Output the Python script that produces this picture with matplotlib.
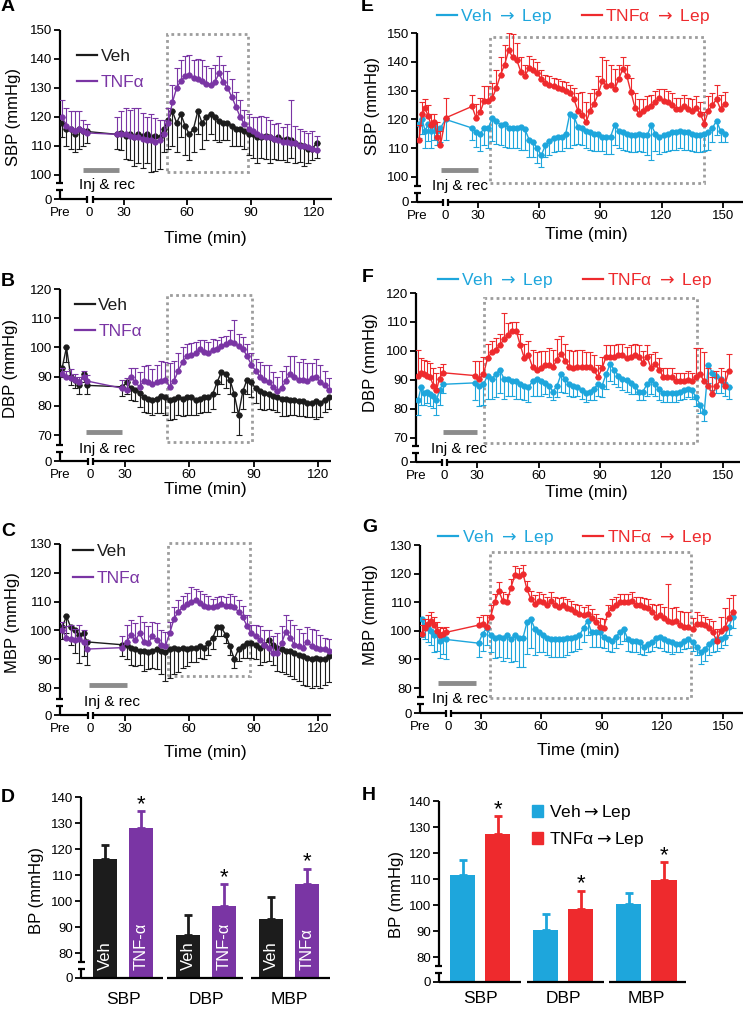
import numpy as np
import matplotlib
matplotlib.use('Agg')
import matplotlib.pyplot as plt
from matplotlib.lines import Line2D
from matplotlib.patches import Patch, Rectangle

plt.rcParams['font.family'] = ['Liberation Sans', 'DejaVu Sans']

W, H = 745, 1011
BLACK = '#1c1c1c'
PURPLE = '#7a35a4'
CYAN = '#1ea6dc'
RED = '#ee2a2d'
GRAY = '#8c8c8c'
BOXC = '#9d9d9d'

# ---------------- data: panels A-C (Veh vs TNFa) ----------------
pre_abc = [1, 3, 5, 7, 9, 11, 12.5]

t_a = pre_abc + list(range(27, 122, 2))
veh_a = [118, 116, 116, 114, 116, 115, 115,
         114, 114.5, 113.5, 114, 113, 114, 113.5, 114, 113, 113.5, 113,
         116, 119, 122, 118, 121, 117, 114, 116, 122, 118, 120, 121, 120, 118.5, 118, 118, 117, 116, 116, 115, 114,
         114, 113, 113, 113.5, 113, 112.5, 113, 112, 112.5, 112, 111, 110.5, 110, 109, 109, 111]
veh_a_err = [5, 6, 7, 6, 7, 5, 4,
             5, 6, 8, 9, 10, 10, 11, 10, 12, 12, 11,
             8, 10, 12, 10, 8, 10, 9, 8, 8, 9, 8, 7, 8, 7, 6, 6, 7, 6, 6, 6, 7,
             8, 9, 7, 8, 9, 7, 8, 7, 8, 6, 7, 6, 7, 5, 4, 5]
tnf_a = [120, 117, 116, 115, 116, 115, 114.5,
         114, 114, 114, 113.5, 113, 113, 112.5, 112, 112, 111.5, 112,
         114, 118, 125, 130, 132.5, 134, 134.5, 133.5, 133, 132.5, 131.5, 131, 132, 135, 132, 130, 127, 123.5, 120, 117.5, 116,
         115, 114, 113.5, 113, 113, 112.5, 112, 111.5, 111.5, 111, 111, 110, 110, 109.5, 109, 108.5]
tnf_a_err = [6, 6, 6, 7, 6, 4, 3,
             6, 8, 9, 9, 10, 10, 9, 8, 9, 8, 7,
             5, 5, 6, 7, 7, 7, 7, 6, 7, 7, 6, 6, 6, 6, 6, 6, 6, 5, 6, 5, 5,
             5, 6, 7, 7, 6, 5, 6, 5, 6, 15, 6, 6, 5, 5, 6, 5]

t_b = pre_abc + list(range(29, 126, 2))
veh_b = [93, 100, 90, 89, 87, 91, 87,
         86.5, 88, 86, 85.5, 84.5, 83, 82.5, 82, 82.5, 83.5,
         83, 82, 82.5, 83, 82.5, 83, 83, 82, 82.5, 83,
         83, 84, 88, 91.5, 91, 89, 84, 77, 85, 89,
         88, 86, 85, 84.5, 84, 83.5, 83, 82.5, 82.5, 82,
         82, 81.5, 81.5, 81, 81, 81.5, 81, 82, 83]
veh_b_err = [3, 5, 3, 3, 3, 3, 3,
             3, 4, 4, 4, 5, 5, 5, 5, 5, 6,
             6, 7, 7, 6, 6, 6, 6, 5, 5, 5,
             5, 5, 4, 4, 5, 5, 6, 7, 6, 5,
             5, 5, 6, 6, 5, 5, 5, 6, 6, 5,
             5, 5, 5, 5, 5, 6, 5, 4, 4]
tnf_b = [91, 90, 89.5, 89, 88, 90, 88.5,
         86, 85.5, 90, 88, 86.5, 88.5, 88, 87.5, 88, 88.5,
         89, 86.5, 88.5, 92, 95, 97, 97.5, 98, 99.5, 98.5,
         98, 99, 99.5, 100.5, 101, 102, 101.5, 100.5, 99.5, 97,
         94, 92, 90, 89, 88, 86.5, 85, 86, 88.5, 91,
         90, 89, 89, 88.5, 89.5, 90, 88, 87, 85.5]
tnf_b_err = [2, 2, 3, 2, 2, 2, 2,
             3, 4, 3, 5, 5, 5, 6, 5, 6, 7,
             6, 8, 7, 6, 5, 4, 4, 4, 3, 4,
             4, 4, 3, 3, 3, 4, 8, 4, 4, 4,
             4, 4, 5, 5, 6, 5, 5, 6, 5, 6,
             7, 6, 7, 6, 5, 6, 6, 5, 4]

t_c = pre_abc + list(range(29, 126, 2))
veh_c = [101, 105, 101, 100, 98.5, 99, 96,
         95, 95, 94, 93.5, 93, 93, 92.5, 93, 93.5, 93,
         92.5, 93.5, 94, 93.5, 94, 93.5, 94, 94, 94.5, 94,
         95.5, 97.5, 101, 101, 98.5, 94.5, 90, 93.5, 94.5, 95.5,
         95.5, 95, 94, 95, 96.5, 95, 94, 93.5, 93, 93,
         92, 91.5, 91, 90.5, 90, 90.5, 90, 90, 91]
veh_c_err = [4, 6, 6, 8, 10, 8, 8,
             4, 5, 6, 6, 5, 7, 6, 6, 7, 8, 10,
             10, 9, 8, 7, 6, 5, 5, 4, 4, 4, 4, 3, 3, 3, 3, 3, 4, 4, 5, 5,
             5, 6, 6, 7, 7, 8, 8, 8, 9, 9, 9, 10, 10, 10, 10, 10, 9, 9]
tnf_c = [100, 97.5, 97, 96.5, 97, 96, 93.5,
         94, 96, 98.5, 96.5, 99, 96, 95.5, 98, 96.5, 95,
         94.5, 99, 104, 106.5, 108, 109, 110, 110.5, 109.5, 108.5,
         108, 108, 108.5, 109, 108.5, 108.5, 108, 106.5, 104.5, 101.5,
         99, 98, 96.5, 95, 94, 92, 92, 95.5, 99.5, 97.5,
         95, 94.5, 94, 96, 94.5, 94, 93.5, 93.5, 93]
tnf_c_err = [3, 4, 5, 4, 5, 4, 3,
             4, 6, 5, 6, 6, 7, 6, 5, 6, 5, 5,
             4, 4, 4, 4, 4, 5, 4, 4, 4, 4, 3, 3, 3, 3, 4, 4, 4, 4, 4, 3,
             4, 5, 5, 6, 6, 7, 6, 6, 6, 7, 6, 5, 5, 6, 6, 5, 4, 4]

# ---------------- data: panels E-G (Veh->Lep vs TNFa->Lep) ----------------
t_e = [1, 2.5, 4, 5.5, 7, 8.5, 10, 11.5, 14] + list(range(27, 152, 2))
veh_e = [118.5, 120, 116, 118.5, 116, 118, 116, 117, 120,
         117, 115.5, 115, 117, 117, 120.5, 119.5, 118, 118.5, 117,
         117, 117, 117.5, 116.5, 113, 112, 110, 107.5, 111, 112.5,
         113.5, 114, 114, 115, 122, 121, 117.5, 117, 116, 115.5,
         115, 115, 114, 114, 114, 118, 116, 115.5, 115, 114.5,
         114.5, 115, 114.5, 114.5, 118, 115, 114, 114.5, 115, 115.5,
         115.5, 116, 115.5, 115.5, 115, 114.5, 114.5, 115, 115.5, 117,
         119.5, 116, 115]
veh_e_err = [5, 5, 6, 6, 6, 5, 5, 5, 7,
             4, 5, 6, 6, 7, 8, 8, 7, 8, 7,
             7, 7, 8, 7, 6, 5, 5, 4, 4, 5,
             5, 5, 5, 5, 12, 10, 6, 6, 6, 6,
             6, 6, 5, 6, 6, 7, 6, 6, 6, 6,
             6, 6, 6, 7, 12, 6, 6, 6, 6, 6,
             6, 6, 6, 6, 6, 6, 6, 6, 6, 5,
             5, 4, 3]
tnf_e = [113, 122, 124, 121, 118, 119, 114, 111, 120.5,
         124.5, 120.5, 122.5, 126.5, 126.5, 127.5, 131, 135.5, 139, 144,
         141.5, 140.5, 136.5, 135, 138, 137, 136, 134, 132.5, 132,
         131.5, 131, 130.5, 130, 129, 127, 123, 121.5, 119, 123,
         125.5, 129, 133.5, 131.5, 132, 130.5, 134, 137.5, 135, 129.5,
         124, 122, 123, 124, 124.5, 126, 127.5, 126.5, 126, 125,
         123.5, 123.5, 124.5, 123.5, 123, 124, 122, 118.5, 123, 125,
         127, 123.5, 125.5]
tnf_e_err = [5, 4, 3, 4, 4, 3, 5, 5, 7,
             4, 5, 5, 5, 5, 5, 6, 6, 7, 6,
             8, 6, 5, 4, 4, 4, 4, 3, 3, 3,
             3, 3, 3, 3, 3, 4, 6, 8, 7, 6,
             5, 6, 8, 9, 7, 7, 5, 4, 4, 5,
             5, 5, 4, 4, 4, 4, 3, 4, 4, 4,
             4, 4, 4, 4, 4, 4, 4, 4, 5, 4,
             5, 5, 4]

t_f = [1, 2.5, 4, 5.5, 7, 8.5, 10, 11.5, 13] + list(range(29, 154, 2))
veh_f = [83, 87.5, 85.5, 86, 85, 84.5, 83, 86.5, 88.5,
         89, 88, 88.5, 91.5, 90.5, 92, 93.5, 90.5, 90.5, 89.5,
         89.5, 88.5, 88, 87.5, 89.5, 90.5, 89.5, 89, 88, 86,
         88, 92, 90.5, 88.5, 88, 87.5, 86.5, 85.5, 86, 87,
         88.5, 88, 92, 95.5, 93.5, 91.5, 90.5, 90, 89, 88,
         86, 86, 88.5, 90, 88.5, 87, 85.5, 85.5, 85.5, 85.5,
         86, 86.5, 87, 86.5, 84, 81.5, 79, 95, 92.5, 91.5,
         90.5, 88.5, 87.5]
veh_f_err = [5, 6, 4, 4, 4, 4, 5, 5, 3,
             6, 7, 7, 8, 7, 8, 8, 7, 6, 5,
             6, 5, 5, 5, 5, 6, 5, 4, 4, 3,
             4, 6, 5, 4, 4, 3, 3, 3, 3, 4,
             4, 4, 5, 6, 5, 4, 4, 4, 4, 3,
             3, 3, 4, 5, 4, 4, 3, 3, 3, 3,
             3, 3, 3, 3, 3, 3, 3, 6, 6, 6,
             5, 4, 4]
tnf_f = [91.5, 92.5, 92, 91.5, 91, 88, 86.5, 90.5, 92.5,
         91.5, 90.5, 92, 97.5, 99.5, 100.5, 102, 104, 105.5, 107,
         107, 102, 97.5, 98.5, 94.5, 93.5, 94, 95, 95, 94.5,
         97, 99, 96.5, 94.5, 94, 94.5, 94.5, 94.5, 94.5, 93.5,
         91, 94, 98, 98, 98, 98.5, 98.5, 97.5, 98, 98.5,
         98, 96, 98, 94, 95.5, 93.5, 91, 91, 91, 89.5,
         89.5, 89.5, 90, 89.5, 91, 92, 89.5, 88, 85, 88,
         90, 88, 93]
tnf_f_err = [9, 5, 5, 5, 5, 6, 6, 4, 3,
             5, 6, 6, 5, 4, 4, 4, 9, 4, 3,
             3, 4, 5, 5, 6, 6, 6, 5, 6, 6,
             7, 6, 6, 6, 6, 6, 6, 5, 5, 5,
             4, 4, 4, 4, 4, 4, 4, 4, 4, 4,
             4, 4, 4, 5, 4, 4, 3, 3, 3, 3,
             3, 3, 3, 3, 10, 9, 10, 6, 6, 5,
             4, 5, 6]

t_g = [1, 2.5, 4, 5.5, 7, 8.5, 10, 11.5, 13] + list(range(29, 156, 2))
veh_g = [104, 102, 101, 100, 98.5, 99, 96.5, 98, 97,
         95.7, 99, 101, 98.5, 97.5, 98, 97.5, 98.5, 97, 98.5,
         97.5, 97.5, 103, 104, 100.5, 99.5, 98.5, 97.5, 97, 97,
         97, 97, 97.5, 97.5, 98, 98.5, 101, 103.5, 99.5, 99.5,
         99.5, 98, 97, 96.5, 98, 99.5, 100.5, 97, 96.5, 96.5,
         96, 94.5, 95.5, 96, 97.5, 98, 97, 96.5, 96, 95.5,
         95.5, 96.5, 97, 96, 94.5, 92.5, 93.5, 95.5, 96.5, 97,
         97, 98, 101.5, 105]
veh_g_err = [6, 5, 5, 5, 6, 6, 6, 6, 7,
             5, 6, 6, 6, 7, 7, 8, 8, 8, 9,
             10, 10, 11, 10, 9, 7, 6, 6, 6, 6,
             6, 6, 6, 5, 5, 5, 5, 5, 5, 5,
             5, 4, 4, 4, 4, 4, 4, 4, 4, 4,
             4, 3, 3, 3, 3, 4, 4, 4, 4, 3,
             3, 3, 3, 3, 3, 4, 4, 4, 4, 4,
             3, 3, 3, 4]
tnf_g = [99, 101, 102.5, 103.5, 102, 100, 98.5, 99, 99.5,
         102, 102.5, 101.5, 105, 110, 114, 110.5, 110, 115, 119.5,
         119, 120, 114.5, 111, 109.5, 110.5, 110, 109, 110.5, 109,
         108.5, 109, 108, 107.5, 106.5, 106, 105.5, 106, 104.5, 103,
         101.5, 101, 106, 108, 109, 110, 110, 110, 110.5, 109,
         109, 108.5, 108, 106.5, 105, 105.5, 104.5, 103.5, 103, 103.5,
         102, 101.5, 101.5, 100.5, 102.5, 102.5, 102, 101, 99.5, 96.5,
         100, 101, 104.5, 106.5]
tnf_g_err = [3, 3, 3, 3, 3, 3, 3, 2, 2,
             3, 3, 4, 4, 3, 3, 3, 3, 3, 3,
             3, 3, 3, 3, 3, 3, 3, 3, 3, 3,
             3, 3, 3, 3, 3, 3, 3, 3, 3, 3,
             3, 3, 3, 3, 3, 3, 3, 3, 3, 3,
             3, 3, 3, 3, 4, 4, 4, 13, 5, 5,
             5, 5, 5, 4, 4, 3, 3, 3, 4, 4,
             5, 7, 7, 6]

# ---------------- data: bar panels D and H ----------------
bp_groups = ['SBP', 'DBP', 'MBP']
veh_d = [116, 87, 93]
veh_d_err = [5.5, 7.5, 8.5]
tnf_d = [128, 98, 106.5]
tnf_d_err = [6.5, 8.5, 6]
veh_h = [111.5, 90.5, 100.5]
veh_h_err = [5.7, 6, 4.2]
tnf_h = [127.5, 98.5, 109.7]
tnf_h_err = [6.6, 7, 6.8]

fig = plt.figure(figsize=(W / 100, H / 100), dpi=100)


def add_ax(l, t, r, b):
    return fig.add_axes([l / W, 1 - b / H, (r - l) / W, (b - t) / H])


def ftext(x, y, s, **kw):
    fig.text(x / W, 1 - y / H, s, **kw)


KW = dict(color='k', lw=1.6, clip_on=False, solid_capstyle='butt')


def y_axis(ax, wpx, hpx, ylo, yhi, yticks):
    for s in ax.spines.values():
        s.set_visible(False)
    ta = ax.transAxes
    up, lo, cap = 16 / hpx, 9 / hpx, 3.5 / wpx
    ax.plot([0, 0], [up, 1], transform=ta, **KW)
    ax.plot([-cap, cap], [up, up], transform=ta, **KW)
    ax.plot([0, 0], [0, lo], transform=ta, **KW)
    ax.plot([-cap, cap], [lo, lo], transform=ta, **KW)
    ax.set_yticks([ylo] + yticks)
    ax.set_yticklabels(['0'] + [str(v) for v in yticks])
    ax.tick_params(axis='y', direction='out', length=4, width=1.3,
                   labelsize=9.5, pad=1.5)


def ts_panel(pos, t, veh, veh_err, tnf, tnf_err, cv, ct, ylo, yhi, yticks,
             xhi, xt, box, inj, inj_txt, labels, leg_xy, ncol):
    l, tp, r, b = pos
    wpx, hpx = r - l, b - tp
    ax = add_ax(l, tp, r, b)
    y_axis(ax, wpx, hpx, ylo, yhi, yticks)
    tx = ax.get_xaxis_transform()
    m = 3.5 / hpx
    ax.plot([0, 12.8], [0, 0], transform=tx, **KW)
    ax.plot([15.4, xhi], [0, 0], transform=tx, **KW)
    ax.plot([12.8, 12.8], [-m, m], transform=tx, **KW)
    ax.plot([15.4, 15.4], [-m, m], transform=tx, **KW)

    z = np.zeros(len(t))
    ax.errorbar(t, veh, yerr=[veh_err, z], fmt='-o', color=cv, ms=3.5,
                lw=1, elinewidth=0.8, capsize=2, capthick=0.8, zorder=3)
    ax.errorbar(t, tnf, yerr=[z, tnf_err], fmt='-o', color=ct, ms=3.5,
                lw=1, elinewidth=0.8, capsize=2, capthick=0.8, zorder=4)

    x0, x1, y0, y1 = box
    ax.add_patch(Rectangle((x0, y0), x1 - x0, y1 - y0, fill=False, ec=BOXC,
                           lw=2, ls=(0, (1, 1.2)), zorder=1, clip_on=False))
    ax.plot(inj[:2], [inj[2], inj[2]], transform=tx, color=GRAY, lw=3.5,
            solid_capstyle='butt', clip_on=False)
    ax.text(inj_txt[0], inj_txt[1], 'Inj & rec', transform=tx, ha='center',
            va='center', fontsize=11)

    ax.set_xlim(0, xhi)
    ax.set_ylim(ylo, yhi)
    ax.set_xticks([0, 14] + xt)
    ax.set_xticklabels(['Pre', '0'] + [str(v) for v in xt])
    ax.tick_params(axis='x', direction='out', length=4, width=1.3,
                   labelsize=9.5, pad=1.5)
    for tk in ax.xaxis.get_major_ticks()[:2]:
        tk.tick1line.set_visible(False)

    handles = [Line2D([], [], color=cv, lw=1.6), Line2D([], [], color=ct, lw=1.6)]
    ax.legend(handles, labels, loc='upper left', bbox_to_anchor=leg_xy,
              frameon=False, fontsize=12.5, handlelength=1.15,
              handletextpad=0.2, labelspacing=0.65, borderpad=0,
              borderaxespad=0, columnspacing=1.7, ncol=ncol,
              labelcolor='linecolor')
    return ax


lab1 = ['Veh', 'TNFα']
lab2 = [r'Veh $\rightarrow$ Lep', r'TNFα $\rightarrow$ Lep']

ts_panel((60, 30, 332, 199), t_a, veh_a, veh_a_err, tnf_a, tnf_a_err, BLACK, PURPLE,
         91.7, 150, [100, 110, 120, 130, 140, 150], 128.3, [30, 60, 90, 120],
         (50.3, 88.8, 101, 148.6), (11, 28, 0.17), (22, 0.083), lab1, (0.0625, 0.89), 1)
ts_panel((60, 289, 331, 461), t_b, veh_b, veh_b_err, tnf_b, tnf_b_err, BLACK, PURPLE,
         61.1, 120, [70, 80, 90, 100, 110, 120], 126, [30, 60, 90, 120],
         (49.8, 89.3, 67.7, 117.8), (12, 29, 0.17), (22, 0.07), lab1, (0.055, 0.95), 1)
ts_panel((60, 544, 331, 715), t_c, veh_c, veh_c_err, tnf_c, tnf_c_err, BLACK, PURPLE,
         70.6, 130, [80, 90, 100, 110, 120, 130], 126, [30, 60, 90, 120],
         (50, 88.5, 84, 130.3), (13.5, 31, 0.175), (24, 0.076), lab1, (0.048, 1.0), 1)
ts_panel((417, 33, 743, 202), t_e, veh_e, veh_e_err, tnf_e, tnf_e_err, CYAN, RED,
         91.3, 150, [100, 110, 120, 130, 140, 150], 160, [30, 60, 90, 120, 150],
         (36, 141, 98, 148.6), (12, 30, 0.19), (21, 0.095), lab2, (0.061, 1.152), 2)
ts_panel((416, 293, 740, 462), t_f, veh_f, veh_f_err, tnf_f, tnf_f_err, CYAN, RED,
         61.7, 120, [70, 80, 90, 100, 110, 120], 158.5, [30, 60, 90, 120, 150],
         (33.3, 137.3, 68.3, 118.3), (13, 30, 0.18), (21, 0.077), lab2, (0.068, 1.128), 2)
ts_panel((420, 545, 743, 713), t_g, veh_g, veh_g_err, tnf_g, tnf_g_err, CYAN, RED,
         71.3, 130, [80, 90, 100, 110, 120, 130], 160, [30, 60, 90, 120, 150],
         (34.5, 134, 76.5, 127.7), (9, 27.5, 0.18), (20, 0.083), lab2, (0.056, 1.099), 2)


def bar_panel(pos, xlo, xhi, off, wid, segs, veh, veh_err, tnf, tnf_err, cv, ct,
              lab_pad, inner=None):
    l, tp, r, b = pos
    wpx, hpx = r - l, b - tp
    ax = add_ax(l, tp, r, b)
    ylo = 70.4
    y_axis(ax, wpx, hpx, ylo, 140, [80, 90, 100, 110, 120, 130, 140])
    x = np.arange(len(bp_groups))
    z = np.zeros(len(x))
    ax.bar(x - off, np.array(veh) - ylo, bottom=ylo, width=wid, color=cv)
    ax.bar(x + off, np.array(tnf) - ylo, bottom=ylo, width=wid, color=ct)
    ax.errorbar(x - off, veh, yerr=[z, veh_err], fmt='none', ecolor=cv,
                elinewidth=2, capsize=3, capthick=2)
    ax.errorbar(x + off, tnf, yerr=[z, tnf_err], fmt='none', ecolor=ct,
                elinewidth=2, capsize=3, capthick=2)
    for xi, v, e in zip(x, tnf, tnf_err):
        ax.text(xi + off, v + e - 1.5, '*', ha='center', va='bottom', fontsize=16)
    if inner:
        for xi, lv, lt in zip(x, inner[0], inner[1]):
            ax.text(xi - off, 73.5, lv, rotation=90, ha='center', va='bottom',
                    color='white', fontsize=12)
            ax.text(xi + off, 73.5, lt, rotation=90, ha='center', va='bottom',
                    color='white', fontsize=12)
    tx = ax.get_xaxis_transform()
    for s0, s1 in segs:
        ax.plot([s0, s1], [0, 0], transform=tx, **KW)
    ax.set_xlim(xlo, xhi)
    ax.set_ylim(ylo, 140)
    ax.set_xticks(x)
    ax.set_xticklabels(bp_groups)
    ax.tick_params(axis='x', length=0, labelsize=12.5, pad=lab_pad)
    return ax


bar_panel((81, 797, 330, 978), -0.506, 2.49, 0.217, 0.29,
          [(-0.506, 0.482), (0.53, 1.446), (1.54, 2.49)],
          veh_d, veh_d_err, tnf_d, tnf_d_err, BLACK, PURPLE, 10,
          inner=(['Veh', 'Veh', 'Veh'], ['TNF-α', 'TNF-α', 'TNFα']))
axh = bar_panel((439, 801, 686, 982), -0.494, 2.48, 0.211, 0.31,
                [(-0.494, 0.494), (0.566, 1.494), (1.554, 2.48)],
                veh_h, veh_h_err, tnf_h, tnf_h_err, CYAN, RED, 6.5)
axh.legend([Patch(color=CYAN), Patch(color=RED)],
           [r'Veh$\rightarrow$Lep', r'TNFα$\rightarrow$Lep'],
           loc='upper left', bbox_to_anchor=(0.377, 0.987), frameon=False,
           fontsize=12.5, handlelength=0.65, handleheight=0.65,
           handletextpad=0.3, labelspacing=0.45, borderpad=0, borderaxespad=0)

# axis titles
for x, y, s in [(14, 117, 'SBP (mmHg)'), (11, 368, 'DBP (mmHg)'), (13, 623, 'MBP (mmHg)'),
                (372, 106, 'SBP (mmHg)'), (370, 362, 'DBP (mmHg)'), (371, 615, 'MBP (mmHg)'),
                (37, 890, 'BP (mmHg)'), (396, 895, 'BP (mmHg)')]:
    ftext(x, y, s, rotation=90, ha='center', va='center', fontsize=12)
for x, y in [(205, 238), (205, 490), (205, 752), (586, 235), (586, 493), (578, 750)]:
    ftext(x, y, 'Time (min)', ha='center', va='center', fontsize=12.5)

# panel letters
for x, y, s in [(1, 2, 'A'), (1, 277, 'B'), (1, 527, 'C'), (1, 793, 'D'),
                (361, 2, 'E'), (362, 272, 'F'), (362, 522, 'G'), (362, 790, 'H')]:
    ftext(x, y - 3.5, s, ha='left', va='top', fontsize=14, fontweight='bold')

fig.savefig('out.png', dpi=100)
